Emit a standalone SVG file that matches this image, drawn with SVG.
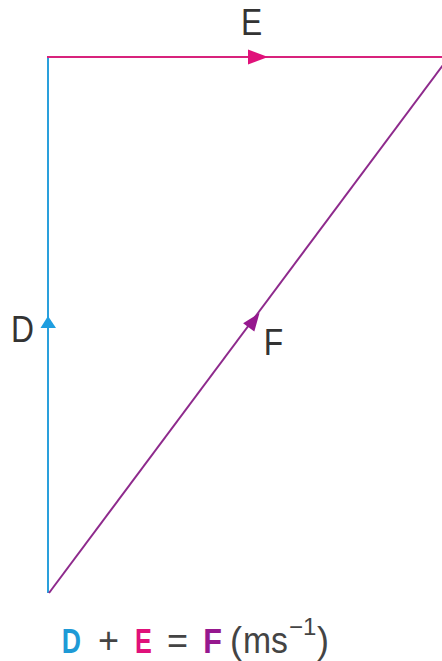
<svg xmlns="http://www.w3.org/2000/svg" width="442" height="661" viewBox="0 0 442 661">
<style>
.lbl{font-family:"Liberation Sans",Arial,sans-serif;font-size:37px;fill:#333;text-anchor:middle;}
.eq{font-family:"Liberation Sans",Arial,sans-serif;font-size:36px;fill:#444;}
.b{font-weight:bold;text-anchor:middle;}
</style>
<rect width="442" height="661" fill="#fff"/>
<g id="connectors">
<line id="D" x1="48" y1="593" x2="48" y2="57" stroke="#2aa0dc" stroke-width="2"/>
<line id="E" x1="47" y1="57" x2="442" y2="57" stroke="#d8237c" stroke-width="2"/>
<line id="F" x1="49" y1="593" x2="449" y2="57" stroke="#8e2a8c" stroke-width="2"/>
<polygon points="48,316 40.5,328 56,328" fill="#1f9ee0"/>
<polygon points="268,57 248,49.5 248,64.5" fill="#e0117a"/>
<polygon points="259.5,313 243.1,323.2 254.3,331.6" fill="#96188e"/>
</g>
<g id="label-E"><text class="lbl" x="251.5" y="35" transform="translate(251.5,0) scale(0.86,1) translate(-251.5,0)">E</text></g>
<g id="label-D"><text class="lbl" x="22.5" y="342" transform="translate(22.5,0) scale(0.86,1) translate(-22.5,0)">D</text></g>
<g id="label-F"><text class="lbl" x="273.5" y="355" transform="translate(273.5,0) scale(0.86,1) translate(-273.5,0)">F</text></g>
<g id="equation">
<text class="eq b" x="71.5" y="653" style="fill:#1e9ad6" transform="translate(71.5,0) scale(0.74,1) translate(-71.5,0)">D</text>
<text class="eq" x="108.5" y="653" text-anchor="middle">+</text>
<text class="eq b" x="143.5" y="653" style="fill:#e0117a" transform="translate(143.5,0) scale(0.7,1) translate(-143.5,0)">E</text>
<text class="eq" x="177.5" y="653" text-anchor="middle">=</text>
<text class="eq b" x="212.5" y="653" style="fill:#96188e" transform="translate(212.5,0) scale(0.85,1) translate(-212.5,0)">F</text>
<text class="eq" x="230" y="653">(<tspan x="243" textLength="45" lengthAdjust="spacingAndGlyphs">ms</tspan><tspan x="289" y="635" font-size="24">−1</tspan><tspan x="317" y="653">)</tspan></text>
</g>
</svg>
